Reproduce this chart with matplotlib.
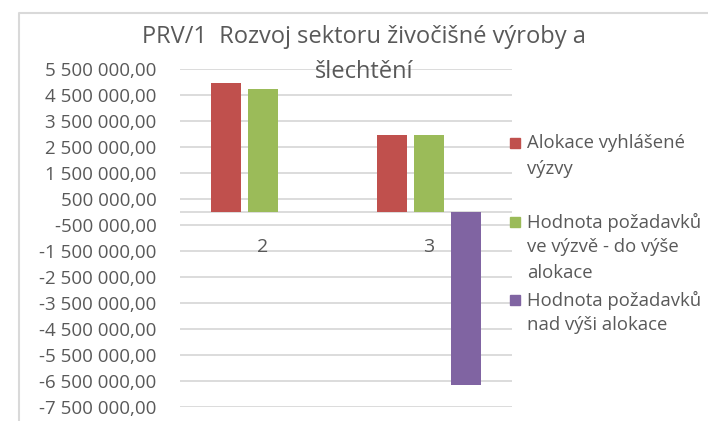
import numpy as np
import matplotlib
matplotlib.use("Agg")
import matplotlib.pyplot as plt
from matplotlib.lines import Line2D
from matplotlib.patches import Rectangle

plt.rcParams['font.family'] = ['Open Sans', 'DejaVu Sans']

# PRV/1 - alokace a požadavky podle kola výzvy
categories = ["2", "3"]
alokace = [4950000, 2960000]
pozadavky_do_alokace = [4740000, 2960000]
pozadavky_nad_alokaci = [0, -6650000]

title_lines = ["PRV/1  Rozvoj sektoru živočišné výroby a", "šlechtění"]
series_names = [
    ["Alokace vyhlášené", "výzvy"],
    ["Hodnota požadavků", "ve výzvě - do výše", "alokace"],
    ["Hodnota požadavků", "nad výši alokace"],
]
colors = ["#C0504D", "#9BBB59", "#8064A2"]
text_col = "#595959"
grid_col = "#D9D9D9"

W, H = 708, 421
fig = plt.figure(figsize=(W / 100, H / 100), dpi=100)
ax = fig.add_axes([180 / W, 1 - 407 / H, (512 - 180) / W, (407 - 69) / H])

x = np.arange(len(categories))
step, width = 0.223, 0.175
for i, vals in enumerate([alokace, pozadavky_do_alokace, pozadavky_nad_alokaci]):
    ax.bar(x + (i - 1) * step, vals, width, color=colors[i], zorder=3)

ticks = np.arange(-7500000, 5500001, 1000000)
ax.set_yticks(ticks)
ax.set_yticklabels([f"{t:,.2f}".replace(",", " ").replace(".", ",") for t in ticks])
ax.set_ylim(-7500000, 5500000)
ax.set_xlim(-0.5, 1.5)
ax.set_xticks([])
ax.tick_params(axis='y', length=0, pad=17, labelsize=13.5, labelcolor=text_col)
ax.grid(axis='y', color=grid_col, lw=1.3, zorder=0)
ax.axhline(0, color=grid_col, lw=1.3, zorder=2)
for s in ax.spines.values():
    s.set_visible(False)

# popisky kategorií pod nulovou osou
for xi, c in zip(x, categories):
    ax.annotate(c, (xi, 0), xytext=(0, -25), textcoords='offset points',
                ha='center', va='center', fontsize=14, color=text_col)

# nadpis po řádcích
for k, line in enumerate(title_lines):
    fig.text(364 / W, 1 - (37 + k * 35) / H, line, ha='center', va='center',
             fontsize=17, color=text_col)

# legenda
leg_y = [143, 222, 300]
for name, col, y0 in zip(series_names, colors, leg_y):
    fig.add_artist(Rectangle((510 / W, 1 - (y0 + 5) / H), 10 / W, 10 / H,
                             transform=fig.transFigure, color=col))
    for k, line in enumerate(name):
        fig.text(527 / W, 1 - (y0 + k * 25.5) / H, line, ha='left', va='center',
                 fontsize=13.3, color=text_col)

# rámeček grafu
fig.add_artist(Line2D([19 / W, 19 / W, 1], [0, 1 - 13 / H, 1 - 13 / H],
                      transform=fig.transFigure, color=grid_col, lw=1.5))

fig.savefig("out.png", dpi=100)
